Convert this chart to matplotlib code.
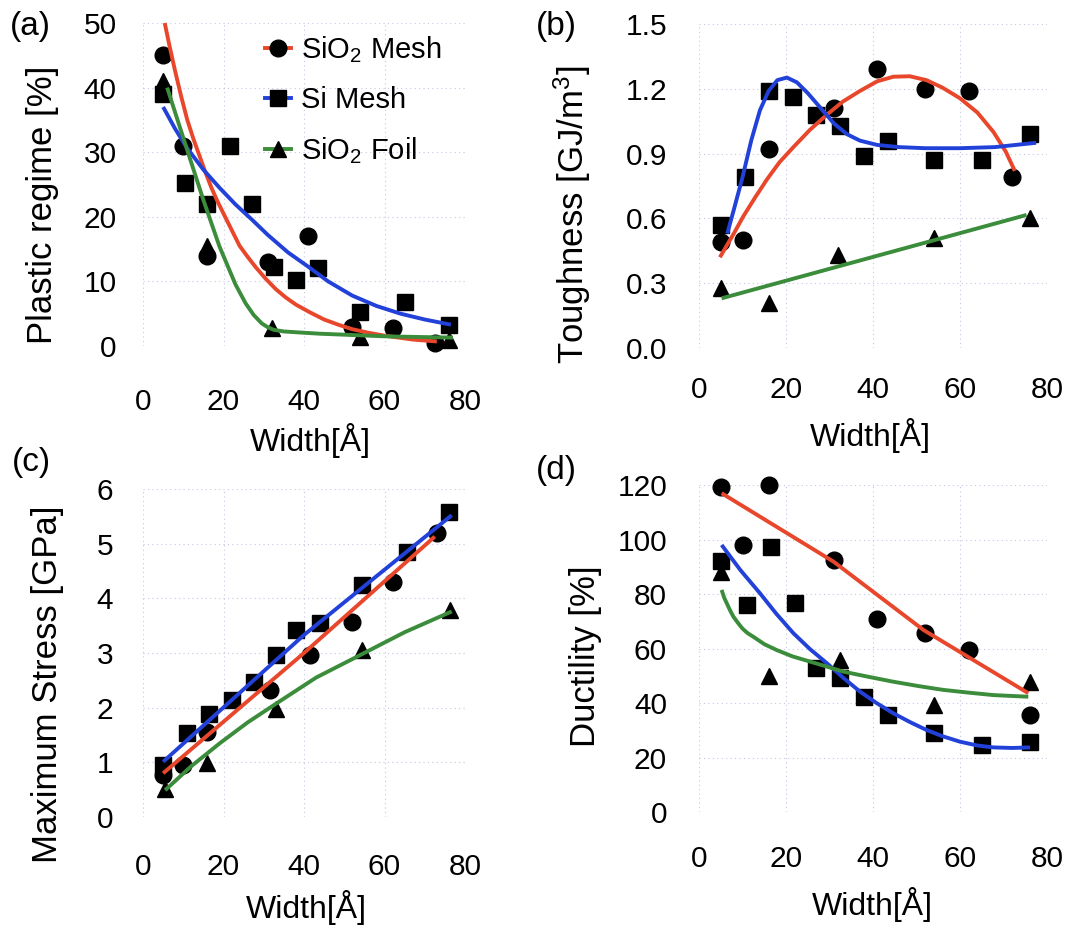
import matplotlib
matplotlib.use("Agg")
import matplotlib.pyplot as plt
from matplotlib.lines import Line2D

plt.rcParams['font.family'] = ['Liberation Sans', 'DejaVu Sans']
plt.rcParams['mathtext.default'] = 'regular'

# ---------------- data ----------------
series_names = ['SiO$_2$ Mesh', 'Si Mesh', 'SiO$_2$ Foil']
x_ticks = [0, 20, 40, 60, 80]

# (a) Plastic regime [%]
a_circ_x = [5, 10, 16, 31, 41, 52, 62, 72.5]
a_circ_y = [45, 31, 14, 13, 17, 3, 2.8, 0.5]
a_sq_x = [5, 10.5, 16, 21.5, 27, 32.5, 38, 43.5, 54, 65, 76]
a_sq_y = [39, 25.3, 22, 31, 22, 12.2, 10.2, 12, 5.2, 6.8, 3.2]
a_tri_x = [5, 16, 32, 54, 76]
a_tri_y = [41, 15.5, 2.8, 1.4, 0.9]
a_red_x = [5.4, 6.5, 8, 9.5, 11, 12.5, 14, 15.5, 17, 18.5, 20, 22, 24, 26, 28, 30.5, 33, 35.5, 38,
           41.5, 45, 48.5, 52, 56, 60, 63.5, 67, 70, 73]
a_red_y = [50, 46.7, 42.5, 38.6, 35, 32.1, 29.5, 26.9, 24.5, 22.4, 20.5, 18.0, 15.5, 13.8, 12.2,
           10.4, 8.8, 7.5, 6.4, 5.2, 4.1, 3.3, 2.6, 2.05, 1.6, 1.3, 1.0, 0.85, 0.7]
a_blue_x = [5, 8, 11, 15, 19, 23, 27, 31, 36, 41, 46, 52, 58, 64, 70, 76.5]
a_blue_y = [37, 33.6, 30.6, 27.3, 24.5, 21.9, 19.6, 17.2, 14.5, 12.3, 10.0, 7.8, 6.2, 5.0, 4.1, 3.3]
a_green_x = [6, 11, 15, 19, 23, 25.5, 27.5, 29.5, 31, 32.5, 35, 40, 44, 52, 60, 68, 77]
a_green_y = [40, 30.3, 22.6, 15.4, 9.5, 6.6, 4.8, 3.5, 2.9, 2.5, 2.25, 2.05, 1.9, 1.7, 1.5, 1.4, 1.3]
a_yticks = [0, 10, 20, 30, 40, 50]

# (b) Toughness [GJ/m3]
b_circ_x = [5, 10, 16, 31, 41, 52, 62, 72]
b_circ_y = [0.49, 0.50, 0.92, 1.11, 1.29, 1.20, 1.19, 0.79]
b_sq_x = [5, 10.5, 16, 21.5, 27, 32.5, 38, 43.5, 54, 65, 76]
b_sq_y = [0.57, 0.79, 1.19, 1.16, 1.08, 1.03, 0.89, 0.96, 0.87, 0.87, 0.99]
b_tri_x = [5, 16, 32, 54, 76]
b_tri_y = [0.28, 0.21, 0.43, 0.51, 0.60]
b_red_x = [4.8, 8, 10.2, 13, 15.6, 18.5, 21.7, 25.5, 29.4, 33, 37, 41, 44.7, 48.5, 52.3, 56, 60,
           64, 67.7, 70.5, 72.6]
b_red_y = [0.42, 0.53, 0.61, 0.70, 0.78, 0.86, 0.93, 1.01, 1.08, 1.14, 1.19, 1.235, 1.256, 1.258,
           1.24, 1.205, 1.156, 1.09, 1.0, 0.91, 0.82]
b_blue_x = [6.5, 8, 10, 12, 14, 16, 18, 20.2, 22.5, 25, 28, 31, 34, 37, 41, 46, 52, 60, 68, 77.5]
b_blue_y = [0.53, 0.64, 0.79, 0.96, 1.10, 1.19, 1.24, 1.252, 1.23, 1.18, 1.11, 1.04, 0.99, 0.96,
            0.94, 0.93, 0.925, 0.925, 0.93, 0.95]
b_green_x = [5.2, 75.3]
b_green_y = [0.23, 0.616]
b_yticks = [0.0, 0.3, 0.6, 0.9, 1.2, 1.5]

# (c) Maximum Stress [GPa]
c_circ_x = [5, 10, 16, 31.5, 41.5, 52, 62, 73]
c_circ_y = [0.77, 0.95, 1.56, 2.32, 2.96, 3.57, 4.30, 5.19]
c_sq_x = [5, 11, 16.5, 22, 27.5, 33, 38, 44, 54.5, 65.5, 76]
c_sq_y = [0.95, 1.53, 1.89, 2.14, 2.47, 2.96, 3.42, 3.54, 4.24, 4.85, 5.58]
c_tri_x = [5.5, 16, 33, 54.5, 76.3]
c_tri_y = [0.52, 0.98, 1.97, 3.05, 3.79]
c_red_x = [5, 40, 72.5]
c_red_y = [0.80, 3.0, 5.13]
c_blue_x = [5, 40, 76.7]
c_blue_y = [1.01, 3.33, 5.52]
c_green_x = [5.5, 12, 19.1, 26, 33.2, 43, 53.9, 65, 76.7]
c_green_y = [0.49, 0.93, 1.35, 1.73, 2.08, 2.55, 2.96, 3.38, 3.76]
c_yticks = [0, 1, 2, 3, 4, 5, 6]

# (d) Ductility [%]
d_circ_x = [5, 10, 16, 31, 41, 52, 62, 76]
d_circ_y = [119.4, 98, 120, 92.5, 70.7, 65.8, 59.4, 35.6]
d_sq_x = [5, 11, 16.5, 22, 27, 32.5, 38, 43.5, 54, 65, 76]
d_sq_y = [92, 76, 97.4, 76.8, 52.7, 49.1, 42.1, 35.6, 28.9, 24.6, 25.8]
d_tri_x = [5, 16, 32.5, 54, 76]
d_tri_y = [88, 49.9, 55.8, 39.3, 47.8]
d_red_x = [5.2, 30.9, 51.6, 75.7]
d_red_y = [117, 91.9, 66.8, 43.6]
d_blue_x = [5.2, 9.5, 14, 17.8, 21.7, 25.5, 29.4, 33.2, 37, 40.8, 44.7, 48.5, 52.3, 56, 60, 64, 67.7, 72, 76.1]
d_blue_y = [98, 88.8, 80.3, 72.7, 65.6, 59.8, 54.6, 49.2, 44.2, 40.0, 36.2, 33.0, 30.1, 27.8,
            25.8, 24.4, 23.7, 23.5, 23.7]
d_green_x = [5.2, 5.8, 6.5, 7.2, 7.9, 9, 10, 11.2, 12.5, 15, 17.9, 21.5, 25.5, 29.5, 33.2, 39, 44.7,
             50.5, 56.2, 62, 67.7, 75.7]
d_green_y = [81.5, 78.6, 76.2, 73.8, 71.7, 69.3, 67.3, 65.6, 64.3, 61.6, 59.4, 57.1, 55.2, 53.3,
             51.5, 49.6, 47.8, 46.2, 44.8, 43.8, 42.9, 42.3]
d_yticks = [0, 20, 40, 60, 80, 100, 120]

# ---------------- style ----------------
RED = '#e8472b'
BLUE = '#2241d9'
GREEN = '#3b8c3b'
LW = 2.8
MS = 12
W, H = 1070, 930

fig = plt.figure(figsize=(W / 100, H / 100), dpi=100)


def px_axes(x0, x1, y0, y1):
    return fig.add_axes([x0 / W, 1 - y1 / H, (x1 - x0) / W, (y1 - y0) / H])


def fx(p):
    return p / W


def fy(p):
    return 1 - p / H


panels = [
    dict(pos=(143, 465, 23, 346), ylim=(0, 50), yt=a_yticks, fmt='{:g}', xpad=30, ypad=19,
         circ=(a_circ_x, a_circ_y), sq=(a_sq_x, a_sq_y), tri=(a_tri_x, a_tri_y),
         red=(a_red_x, a_red_y), blue=(a_blue_x, a_blue_y), green=(a_green_x, a_green_y)),
    dict(pos=(699, 1047, 24, 348), ylim=(0, 1.5), yt=b_yticks, fmt='{:.1f}', xpad=20, ypad=23,
         circ=(b_circ_x, b_circ_y), sq=(b_sq_x, b_sq_y), tri=(b_tri_x, b_tri_y),
         red=(b_red_x, b_red_y), blue=(b_blue_x, b_blue_y), green=(b_green_x, b_green_y)),
    dict(pos=(143, 465, 489, 817), ylim=(0, 6), yt=c_yticks, fmt='{:g}', xpad=26, ypad=21.5,
         circ=(c_circ_x, c_circ_y), sq=(c_sq_x, c_sq_y), tri=(c_tri_x, c_tri_y),
         red=(c_red_x, c_red_y), blue=(c_blue_x, c_blue_y), green=(c_green_x, c_green_y)),
    dict(pos=(699, 1047, 485, 812), ylim=(0, 120), yt=d_yticks, fmt='{:g}', xpad=24, ypad=23,
         circ=(d_circ_x, d_circ_y), sq=(d_sq_x, d_sq_y), tri=(d_tri_x, d_tri_y),
         red=(d_red_x, d_red_y), blue=(d_blue_x, d_blue_y), green=(d_green_x, d_green_y)),
]

axes = []
for p in panels:
    ax = px_axes(*p['pos'])
    axes.append(ax)
    ax.set_xlim(0, 80)
    ax.set_ylim(*p['ylim'])
    ax.set_xticks(x_ticks)
    ax.set_yticks(p['yt'])
    ax.set_yticklabels([p['fmt'].format(v) for v in p['yt']])
    for s in ax.spines.values():
        s.set_visible(False)
    ax.tick_params(axis='both', length=0, labelsize=21.5)
    ax.tick_params(axis='x', pad=p['xpad'])
    ax.tick_params(axis='y', pad=p['ypad'])
    ax.grid(True, color='#c3c7e4', lw=0.8, ls=(0, (1, 3)))
    ax.set_axisbelow(True)
    for key, m in (('circ', 'o'), ('sq', 's'), ('tri', '^')):
        xs, ys = p[key]
        ax.plot(xs, ys, ls='none', marker=m, ms=MS, mfc='black', mec='black', clip_on=False, zorder=3)
    for key, c in (('red', RED), ('blue', BLUE), ('green', GREEN)):
        xs, ys = p[key]
        ax.plot(xs, ys, color=c, lw=LW, solid_capstyle='butt', solid_joinstyle='round',
                clip_on=False, zorder=4)

# legend in (a)
handles = [Line2D([], [], color=RED, lw=LW, marker='o', ms=MS, mfc='k', mec='k'),
           Line2D([], [], color=BLUE, lw=LW, marker='s', ms=MS, mfc='k', mec='k'),
           Line2D([], [], color=GREEN, lw=LW, marker='^', ms=MS, mfc='k', mec='k')]
fig.legend(handles, series_names, loc='upper left', bbox_to_anchor=(fx(265), fy(34)),
           borderaxespad=0, borderpad=0, handlelength=0.9, handletextpad=0.35,
           labelspacing=0.72, frameon=False, fontsize=21)

# panel letters
for t, (x, y) in zip(['(a)', '(b)', '(c)', '(d)'], [(30, 26), (556, 27), (31, 463), (556, 470)]):
    fig.text(fx(x), fy(y), t, fontsize=24, ha='center', va='center')

# y labels
ylabels = ['Plastic regime [%]', 'Toughness [GJ/m$^3$]', 'Maximum Stress [GPa]', 'Ductility [%]']
for t, (x, y) in zip(ylabels, [(43, 205), (572, 215), (48, 684), (585, 656)]):
    fig.text(fx(x), fy(y), t, fontsize=25, ha='center', va='center', rotation=90)

# x labels
for (x, y) in [(310, 440), (870, 435), (306, 907), (872, 904)]:
    fig.text(fx(x), fy(y), 'Width[Å]', fontsize=23, ha='center', va='center')

fig.savefig('out.png', dpi=100)
